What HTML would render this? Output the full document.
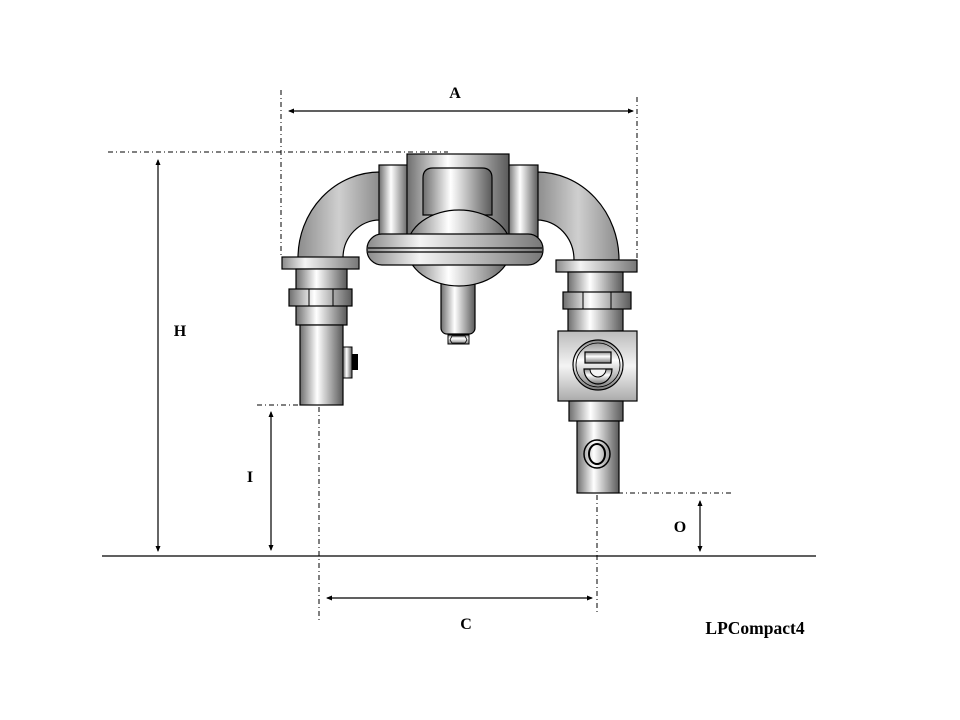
<!DOCTYPE html>
<html><head><meta charset="utf-8"><style>
html,body{margin:0;padding:0;background:#fff}
svg{display:block}
text{font-family:"Liberation Serif",serif;font-weight:bold;fill:#000}
</style></head><body>
<svg width="960" height="720" viewBox="0 0 960 720" xmlns="http://www.w3.org/2000/svg">
<defs>
<linearGradient id="cyl" x1="0" x2="1" y1="0" y2="0">
<stop offset="0" stop-color="#6e6e6e"/><stop offset="0.4" stop-color="#ffffff"/><stop offset="1" stop-color="#5a5a5a"/>
</linearGradient>
<linearGradient id="cylv" x1="0" x2="0" y1="0" y2="1">
<stop offset="0" stop-color="#8a8a8a"/><stop offset="0.4" stop-color="#ffffff"/><stop offset="1" stop-color="#7a7a7a"/>
</linearGradient>
<linearGradient id="flg" x1="0" x2="1" y1="0" y2="0">
<stop offset="0" stop-color="#8a8a8a"/><stop offset="0.3" stop-color="#f4f4f4"/><stop offset="1" stop-color="#777"/>
</linearGradient>
<linearGradient id="arch" x1="0" x2="1" y1="0" y2="0">
<stop offset="0" stop-color="#8c8c8c"/><stop offset="0.5" stop-color="#cfcfcf"/><stop offset="1" stop-color="#8c8c8c"/>
</linearGradient>
<linearGradient id="box" x1="0" x2="0" y1="0" y2="1">
<stop offset="0" stop-color="#bbb"/><stop offset="0.5" stop-color="#f4f4f4"/><stop offset="1" stop-color="#aaa"/>
</linearGradient>
</defs>

<path d="M298,258 A82,86 0 0 1 380,172 L380,220 A37,38 0 0 0 343,258 Z" fill="url(#arch)" stroke="#000" stroke-width="1.2"/>
<path d="M537,172 A82,88 0 0 1 619,260 L574,260 A37,40 0 0 0 537,220 Z" fill="url(#arch)" stroke="#000" stroke-width="1.2"/>

<rect x="379" y="165" width="30" height="72" fill="url(#cyl)" stroke="#000" stroke-width="1.2"/>
<rect x="508" y="165" width="30" height="72" fill="url(#cyl)" stroke="#000" stroke-width="1.2"/>
<rect x="407" y="154" width="102" height="82" fill="url(#cyl)" stroke="#000" stroke-width="1.2"/>
<path d="M423,215 L423,178 Q423,168 433,168 L482,168 Q492,168 492,178 L492,215 Z" fill="url(#cyl)" stroke="#000" stroke-width="1.2"/>
<rect x="441" y="270" width="34" height="64" rx="6" fill="url(#cyl)" stroke="#000" stroke-width="1.2"/>
<path d="M448,335 L469,335 L469,344 L448,344 Z" fill="url(#cylv)" stroke="#000"/>
<path d="M452,336 L465,336 L467,340 L465,343 L452,343 L450,340 Z" fill="none" stroke="#000" stroke-width="0.8"/>
<ellipse cx="459" cy="248" rx="52" ry="38" fill="url(#cyl)" stroke="#000" stroke-width="1.2"/>
<rect x="367" y="234" width="176" height="31" rx="15" fill="url(#flg)" stroke="#000" stroke-width="1.2"/>
<line x1="368" y1="248" x2="542" y2="248" stroke="#000" stroke-width="1.2"/>
<line x1="368" y1="252" x2="542" y2="252" stroke="#000" stroke-width="1.2"/>

<rect x="282" y="257" width="77" height="12" fill="url(#flg)" stroke="#000" stroke-width="1.2"/>
<rect x="296" y="269" width="51" height="56" fill="url(#cyl)" stroke="#000" stroke-width="1.2"/>
<rect x="289" y="289" width="63" height="17" fill="url(#cyl)" stroke="#000" stroke-width="1.2"/>
<line x1="309" y1="289" x2="309" y2="306" stroke="#000"/>
<line x1="333" y1="289" x2="333" y2="306" stroke="#000"/>
<rect x="300" y="325" width="43" height="80" fill="url(#cyl)" stroke="#000" stroke-width="1.2"/>
<rect x="343" y="347" width="9" height="31" fill="url(#cyl)" stroke="#000"/>
<rect x="352" y="354" width="6" height="16" fill="#000"/>

<rect x="556" y="260" width="81" height="12" fill="url(#flg)" stroke="#000" stroke-width="1.2"/>
<rect x="568" y="272" width="55" height="59" fill="url(#cyl)" stroke="#000" stroke-width="1.2"/>
<rect x="563" y="292" width="68" height="17" fill="url(#cyl)" stroke="#000" stroke-width="1.2"/>
<line x1="583" y1="292" x2="583" y2="309" stroke="#000"/>
<line x1="611" y1="292" x2="611" y2="309" stroke="#000"/>
<rect x="558" y="331" width="79" height="70" fill="url(#box)" stroke="#000" stroke-width="1.2"/>
<circle cx="598" cy="365" r="25" fill="url(#cylv)" stroke="#000" stroke-width="1.2"/>
<circle cx="598" cy="365" r="22" fill="none" stroke="#000" stroke-width="0.8"/>
<rect x="585" y="352" width="26" height="11" fill="url(#cylv)" stroke="#000" stroke-width="1.2"/>
<path d="M584,369 L612,369 A14,15 0 0 1 584,369 Z" fill="url(#cylv)" stroke="#000" stroke-width="1.2"/>
<path d="M590,369 L606,369 A8,8 0 0 1 590,369 Z" fill="#f4f4f4" stroke="#000" stroke-width="1"/>
<rect x="569" y="401" width="54" height="20" fill="url(#cyl)" stroke="#000" stroke-width="1.2"/>
<rect x="577" y="421" width="42" height="72" fill="url(#cyl)" stroke="#000" stroke-width="1.2"/>
<ellipse cx="597" cy="454" rx="13" ry="14" fill="none" stroke="#000" stroke-width="1.5"/>
<ellipse cx="597" cy="454" rx="8" ry="10" fill="none" stroke="#000" stroke-width="2"/>

<g stroke="#000" stroke-width="1" fill="none" stroke-dasharray="5,3,1,3">
<line x1="281" y1="90" x2="281" y2="255"/>
<line x1="637" y1="97" x2="637" y2="258"/>
<line x1="108" y1="152" x2="448" y2="152"/>
<line x1="257" y1="405" x2="300" y2="405"/>
<line x1="319" y1="407" x2="319" y2="620"/>
<line x1="597" y1="495" x2="597" y2="612"/>
<line x1="618" y1="493" x2="732" y2="493"/>
</g>
<g stroke="#000" stroke-width="1.2">
<line x1="102" y1="556" x2="816" y2="556"/>
<line x1="289" y1="111" x2="633" y2="111"/>
<line x1="158" y1="160" x2="158" y2="551"/>
<line x1="271" y1="412" x2="271" y2="550"/>
<line x1="700" y1="501" x2="700" y2="551"/>
<line x1="327" y1="598" x2="592" y2="598"/>
</g>
<g fill="#000">
<path d="M288,111 l6,-2.5 l0,5 z"/><path d="M634,111 l-6,-2.5 l0,5 z"/>
<path d="M158,159 l-2.5,6 l5,0 z"/><path d="M158,552 l-2.5,-6 l5,0 z"/>
<path d="M271,411 l-2.5,6 l5,0 z"/><path d="M271,551 l-2.5,-6 l5,0 z"/>
<path d="M700,500 l-2.5,6 l5,0 z"/><path d="M700,552 l-2.5,-6 l5,0 z"/>
<path d="M326,598 l6,-2.5 l0,5 z"/><path d="M593,598 l-6,-2.5 l0,5 z"/>
</g>
<text x="455" y="98" font-size="16" text-anchor="middle">A</text>
<text x="180" y="336" font-size="16" text-anchor="middle">H</text>
<text x="250" y="482" font-size="16" text-anchor="middle">I</text>
<text x="680" y="532" font-size="16" text-anchor="middle">O</text>
<text x="466" y="629" font-size="16" text-anchor="middle">C</text>
<text x="755" y="634" font-size="17.5" text-anchor="middle">LPCompact4</text>
</svg>
</body></html>
